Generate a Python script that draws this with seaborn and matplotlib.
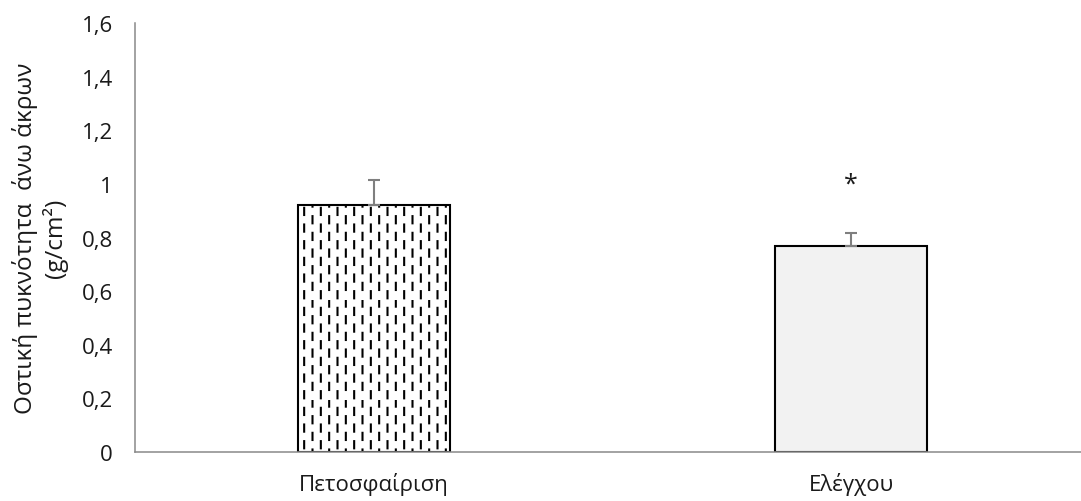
import warnings

import matplotlib
matplotlib.use("Agg")
import matplotlib.pyplot as plt
from matplotlib import hatch as mhatch
from matplotlib.path import Path
import seaborn as sns

warnings.filterwarnings("ignore")

# ---- data -------------------------------------------------------------
categories = ["Πετοσφαίριση", "Ελέγχου"]
means = [0.92, 0.77]
err_upper = [0.095, 0.045]
markers = ["", "*"]
yticks = [0, 0.2, 0.4, 0.6, 0.8, 1.0, 1.2, 1.4, 1.6]
ytick_labels = ["0", "0,2", "0,4", "0,6", "0,8", "1", "1,2", "1,4", "1,6"]
ylabel = "Οστική πυκνότητα  άνω άκρων\n(g/cm²)"


# ---- staggered dashed-vertical hatch (':') ---------------------------
class DashedVerticalHatch(mhatch.HatchPatternBase):
    cols = 12
    rows = 6
    dash = 0.072

    def __init__(self, hatch, density):
        self.on = ":" in hatch
        self.num_vertices = self.cols * self.rows * 2 if self.on else 0

    def set_vertices_and_codes(self, vertices, codes):
        i = 0
        for c in range(self.cols):
            x = (c + 0.5) / self.cols
            shift = 0.5 if c % 2 else 0.0
            for r in range(self.rows):
                y0 = (r + shift + 0.1) / self.rows
                vertices[i] = (x, y0)
                vertices[i + 1] = (x, y0 + self.dash)
                codes[i] = Path.MOVETO
                codes[i + 1] = Path.LINETO
                i += 2


mhatch._hatch_types.append(DashedVerticalHatch)

# ---- style ------------------------------------------------------------
sns.set_style("white")
plt.rcParams["font.family"] = ["Open Sans", "DejaVu Sans"]
plt.rcParams["hatch.linewidth"] = 1.5

axis_grey = "#898989"
text_col = "#1a1a1a"
fs = 16

fig = plt.figure(figsize=(10.81, 5.02), dpi=100)
ax = fig.add_axes([135 / 1081, 49 / 502, 946 / 1081, 429 / 502])

sns.barplot(
    x=categories, y=means, hue=categories, palette=["white", "#f2f2f2"],
    legend=False, width=0.32, saturation=1, edgecolor="black",
    linewidth=1.5, errorbar=None, ax=ax, zorder=2,
)
ax.patches[0].set_hatch(":")

pos = list(range(len(categories)))
ax.errorbar(
    pos, means, yerr=[[0] * len(means), err_upper], fmt="none",
    ecolor="#7f7f7f", elinewidth=1.5, capsize=4.3, capthick=1.5, zorder=3,
)

for p, m, e, s in zip(pos, means, err_upper, markers):
    if s:
        ax.text(p, m + e + 0.185, s, ha="center", va="center",
                fontsize=18, color=text_col)

ax.set_ylim(0, 1.6)
ax.set_xlim(-0.501, 1.482)
ax.set_yticks(yticks)
ax.set_yticklabels(ytick_labels)

for side in ("top", "right"):
    ax.spines[side].set_visible(False)
for side in ("left", "bottom"):
    ax.spines[side].set_color(axis_grey)
    ax.spines[side].set_linewidth(1.1)

ax.tick_params(axis="y", direction="inout", length=11, width=1.1,
               color=axis_grey, labelsize=fs, labelcolor=text_col, pad=10.5)
ax.tick_params(axis="x", direction="inout", length=7, width=1.1,
               color=axis_grey, labelsize=fs, labelcolor=text_col, pad=11)

ax.set_ylabel(ylabel, fontsize=17.5, color=text_col, linespacing=1.2)
ax.yaxis.set_label_coords(-0.071, 0.5)
ax.set_xlabel("")

fig.savefig("out.png", dpi=100)
